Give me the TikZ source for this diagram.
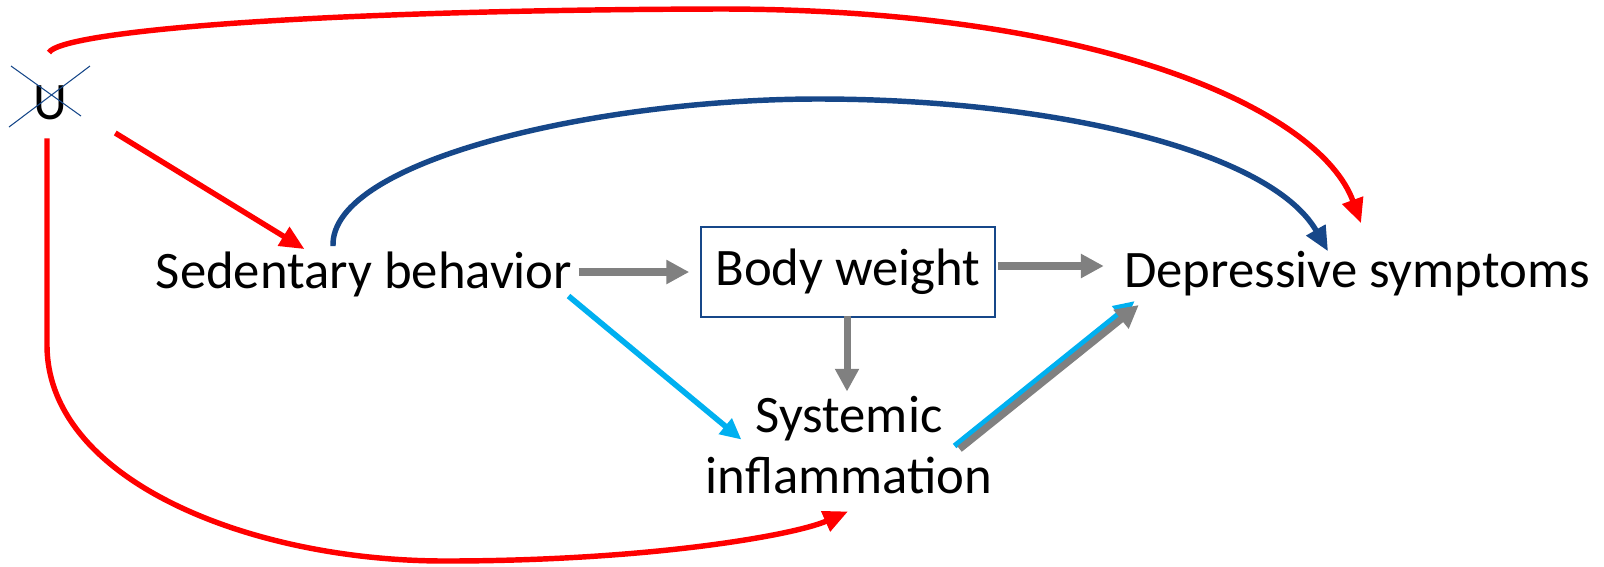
\documentclass[tikz,border=0pt]{standalone}
\usepackage{fontspec}
\setmainfont{Carlito}
\usetikzlibrary{arrows.meta,calc}

\definecolor{dagred}{RGB}{255,0,0}
\definecolor{dagblue}{RGB}{22,71,137}
\definecolor{dagcyan}{RGB}{0,176,240}
\definecolor{daggray}{RGB}{128,128,128}

\begin{document}
\begin{tikzpicture}[x=0.02cm, y=-0.02cm,
    every node/.style={font=\fontsize{30}{35}\selectfont, inner sep=0pt},
    redpath/.style={dagred, line width=3.1pt, -{Triangle[length=14pt, width=12pt]}},
    bluepath/.style={dagblue, line width=3.1pt, -{Triangle[length=14pt, width=12pt]}},
    cyanpath/.style={dagcyan, line width=3.2pt, -{Triangle[length=12pt, width=11pt]}},
    graypath/.style={daggray, line width=4pt, -{Triangle[length=13pt, width=13pt]}}]
  \useasboundingbox (0,0) rectangle (1604,566);

  % nodes
  \node (u) at (50,103) {U};
  \node (sed) at (364,274) {Sedentary behavior};
  \node[draw=dagblue, line width=0.9pt, minimum width=294*0.02cm, minimum height=90*0.02cm]
    (bw) at (848,272) {Body weight};
  \node (ds) at (1357,274) {Depressive symptoms};
  \node[align=center] (si) at (849,445) {Systemic\\inflammation};

  % crossed out U
  \draw[dagblue, line width=0.6pt] ($(u.center)+(-39,-37)$) -- ++(70,50);
  \draw[dagblue, line width=0.6pt] ($(u.center)+(-41,24)$) -- ++(81,-61);

  % 1. confounder paths
  \draw[redpath] ($(u.north)+(-1,-33)$) .. controls (60,32) and (300,10) .. (720,9)
    .. controls (1100,9) and (1320,110) .. ($(ds.north)+(4,-28)$);
  \draw[redpath] ($(u.east)+(48,30)$) -- ($(sed.north west)+(149,-2)$);
  \draw[redpath] ($(u.south)+(-3,18)$) -- (47,345)
    .. controls (47,480) and (250,561) .. (445,561)
    .. controls (650,561) and (795,535) .. ($(si.south)+(-1,17)$);

  % 2. direct path
  \draw[bluepath] ($(sed.north)+(-31,-5)$) .. controls (330,160) and (600,99) .. (818,99)
    .. controls (1050,99) and (1270,150) .. ($(ds.north)+(-29,0)$);

  % 3. mediators
  \draw[graypath] ($(sed.east)+(6,-2)$) -- ($(bw.west)+(-11,0)$);
  \draw[graypath] ($(bw.east)+(2,-6)$) -- ($(ds.west)+(-20,-8)$);
  \draw[graypath] ($(bw.south)+(-1,-2)$) -- ($(si.north)+(-2,-4)$);
  \draw[cyanpath] ($(sed.east)+(-4,22)$) -- ($(si.north west)+(36,44)$);
  \draw[cyanpath] ($(si.east)+(-38,1)$) -- ($(ds.west)+(11,27)$);
  \draw[graypath] ($(si.east)+(-33,4)$) -- ($(ds.west)+(15,31)$);
\end{tikzpicture}
\end{document}
